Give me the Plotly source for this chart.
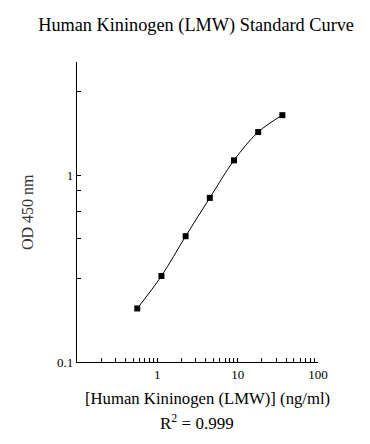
import plotly.graph_objects as go

conc = [0.5625, 1.125, 2.25, 4.5, 9, 18, 36]
od = [0.1935, 0.289, 0.472, 0.757, 1.203, 1.705, 2.10]

x_tickvals = [0.2, 0.3, 0.4, 0.5, 0.6, 0.7, 0.8, 0.9, 1,
              2, 3, 4, 5, 6, 7, 8, 9, 10,
              20, 30, 40, 50, 60, 70, 80, 90, 100]
x_ticktext = ["" for _ in x_tickvals]
x_ticktext[x_tickvals.index(1)] = "1"
x_ticktext[x_tickvals.index(10)] = "10"
x_ticktext[x_tickvals.index(100)] = "100"

y_tickvals = [0.1, 0.281, 0.459, 0.642, 0.829, 1, 2.81]
y_ticktext = ["0.1", "", "", "", "", "1", ""]

FONT = "Liberation Serif"

fig = go.Figure()
fig.add_trace(go.Scatter(
    x=conc, y=od, mode="lines+markers",
    line=dict(color="black", width=1, shape="spline", smoothing=1),
    marker=dict(symbol="square", size=6, color="black"),
    showlegend=False,
))

fig.update_layout(
    width=370, height=444,
    margin=dict(l=77, r=51.5, t=62, b=82),
    paper_bgcolor="white", plot_bgcolor="white",
    font=dict(family=FONT, color="black", size=13),
    title=dict(text="Human Kininogen (LMW) Standard Curve",
               x=0.53, xanchor="center", y=1 - 25 / 444, yanchor="middle",
               font=dict(family=FONT, size=18.3, color="black")),
    xaxis=dict(type="log", range=[-1, 2], tickmode="array",
               tickvals=x_tickvals, ticktext=x_ticktext,
               ticks="inside", ticklen=4, tickwidth=1, tickcolor="black",
               showline=True, linecolor="black", linewidth=1.3,
               showgrid=False, zeroline=False,
               tickfont=dict(family=FONT, size=13, color="black")),
    yaxis=dict(type="log", range=[-1, 0.607], tickmode="array",
               tickvals=y_tickvals, ticktext=y_ticktext,
               ticks="inside", ticklen=4, tickwidth=1, tickcolor="black",
               showline=True, linecolor="black", linewidth=1.3,
               showgrid=False, zeroline=False,
               tickfont=dict(family=FONT, size=13, color="black")),
    annotations=[
        dict(text="[Human Kininogen (LMW)] (ng/ml)", xref="paper", yref="paper",
             x=0.54, y=-0.12, xanchor="center", yanchor="middle", showarrow=False,
             font=dict(family=FONT, size=16.7, color="black")),
        dict(text="R<sup>2</sup> = 0.999", xref="paper", yref="paper",
             x=0.497, y=-0.2, xanchor="center", yanchor="middle", showarrow=False,
             font=dict(family=FONT, size=17, color="black")),
        dict(text="OD 450 nm", xref="paper", yref="paper",
             x=-0.207, y=0.5, xanchor="center", yanchor="middle", showarrow=False,
             textangle=-90, font=dict(family=FONT, size=16, color="#333333")),
    ],
)

fig.write_html("out.html", config={"displayModeBar": False},
               post_script="document.body.style.margin='0';")
